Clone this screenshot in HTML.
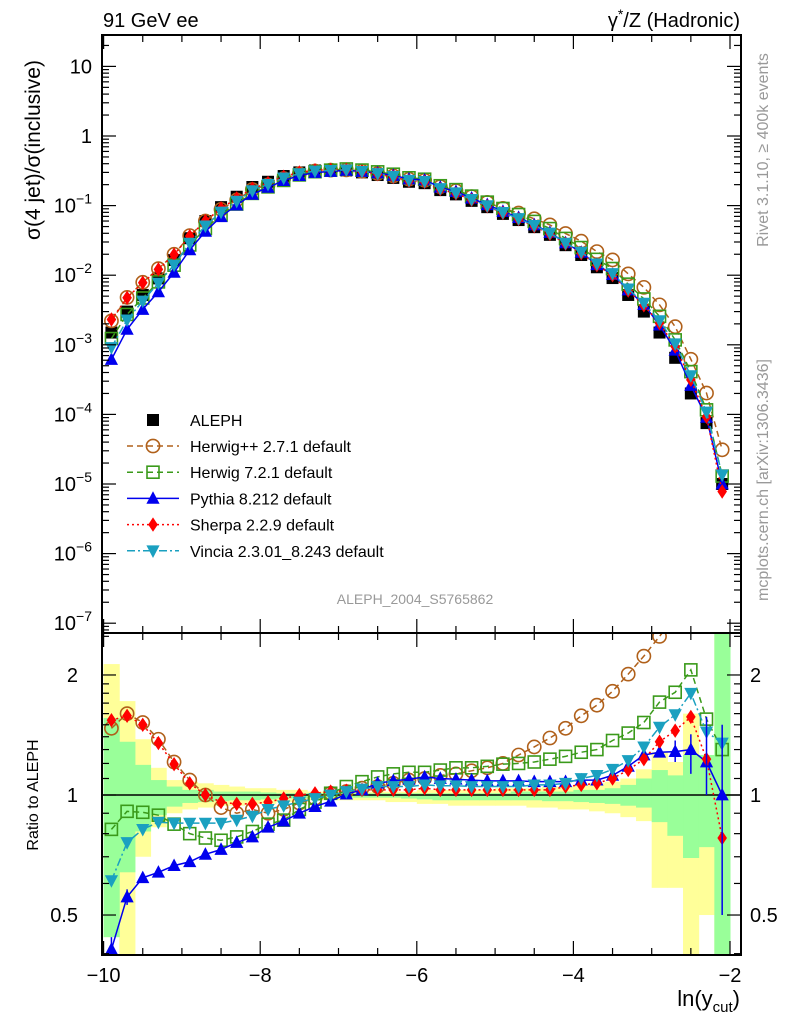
<!DOCTYPE html>
<html><head><meta charset="utf-8"><style>
html,body{margin:0;padding:0;background:#fff;}
svg{display:block;font-family:"Liberation Sans",sans-serif;}
</style></head><body>
<svg id="c" width="786" height="1024" viewBox="0 0 786 1024"></svg>
<script>
const xs=[-9.9,-9.7,-9.5,-9.3,-9.1,-8.9,-8.7,-8.5,-8.3,-8.1,-7.9,-7.7,-7.5,-7.3,-7.1,-6.9,-6.7,-6.5,-6.3,-6.1,-5.9,-5.7,-5.5,-5.3,-5.1,-4.9,-4.7,-4.5,-4.3,-4.1,-3.9,-3.7,-3.5,-3.3,-3.1,-2.9,-2.7,-2.5,-2.3,-2.1];
const aleph=[1.5e-3,3e-3,5.2e-3,9e-3,0.0165,0.034,0.06,0.095,0.134,0.185,0.22,0.266,0.30,0.32,0.32,0.32,0.30,0.275,0.25,0.22,0.21,0.167,0.145,0.117,0.095,0.076,0.062,0.049,0.038,0.027,0.0195,0.013,0.0091,0.0052,0.0030,0.0015,6.5e-4,2.0e-4,7.5e-5,1.0e-5];
const rHpp=[1.47,1.60,1.52,1.38,1.21,1.09,1.0,0.93,0.90,0.92,0.90,0.92,0.955,0.98,1.01,1.02,1.04,1.05,1.07,1.09,1.10,1.12,1.13,1.15,1.17,1.20,1.26,1.32,1.39,1.47,1.58,1.68,1.82,2.01,2.23,2.5,2.8,3.1,2.7,3.1];
const rH7=[0.82,0.91,0.905,0.89,0.845,0.80,0.78,0.77,0.785,0.81,0.845,0.865,0.92,0.96,1.01,1.05,1.08,1.11,1.13,1.14,1.14,1.155,1.17,1.17,1.18,1.195,1.20,1.21,1.23,1.25,1.28,1.30,1.37,1.43,1.52,1.71,1.81,2.06,1.55,1.30];
const rPy=[0.41,0.555,0.62,0.64,0.665,0.68,0.71,0.73,0.76,0.785,0.83,0.86,0.90,0.935,0.965,1.005,1.03,1.07,1.085,1.095,1.11,1.10,1.095,1.09,1.085,1.085,1.085,1.08,1.08,1.08,1.09,1.09,1.12,1.18,1.26,1.28,1.285,1.30,1.21,1.0];
const rSh=[1.54,1.58,1.50,1.35,1.195,1.07,1.0,0.96,0.95,0.95,0.96,0.98,1.0,1.01,1.02,1.025,1.03,1.03,1.03,1.03,1.04,1.03,1.03,1.03,1.03,1.03,1.03,1.03,1.03,1.05,1.06,1.07,1.10,1.155,1.23,1.36,1.45,1.57,1.23,0.78];
const rVi=[0.61,0.76,0.82,0.855,0.85,0.85,0.85,0.85,0.865,0.885,0.92,0.94,0.96,0.98,1.0,1.02,1.035,1.05,1.05,1.05,1.06,1.055,1.055,1.05,1.05,1.05,1.05,1.06,1.06,1.07,1.10,1.12,1.16,1.22,1.32,1.48,1.59,1.80,1.44,1.35];
const pyErrHi=[0.44,0.58,0,0,0,0,0,0,0,0,0,0,0,0,0,0,0,0,0,0,0,0,0,0,0,0,0,0,0,0,0,0,0,0,0,1.31,1.37,1.42,1.57,1.50];
const pyErrLo=[0.38,0.53,0,0,0,0,0,0,0,0,0,0,0,0,0,0,0,0,0,0,0,0,0,0,0,0,0,0,0,0,0,0,0,0,0,1.25,1.21,1.13,1.0,0.5];
const gHi=[1.56,1.36,1.19,1.09,1.05,1.03,1.03,1.02,1.02,1.02,1.015,1.01,1.01,1.01,1.01,1.01,1.01,1.01,1.01,1.01,1.01,1.01,1.01,1.01,1.01,1.01,1.02,1.02,1.02,1.02,1.03,1.03,1.04,1.06,1.10,1.155,1.12,1.26,1.26,2.6];
const gLo=[0.44,0.64,0.81,0.89,0.935,0.955,0.96,0.965,0.97,0.97,0.975,0.98,0.98,0.985,0.985,0.985,0.985,0.985,0.985,0.98,0.975,0.97,0.97,0.97,0.97,0.97,0.97,0.97,0.965,0.965,0.96,0.955,0.95,0.94,0.93,0.855,0.79,0.695,0.74,0.38];
const yHi=[2.13,1.72,1.38,1.17,1.09,1.08,1.07,1.06,1.05,1.04,1.04,1.03,1.03,1.02,1.02,1.02,1.02,1.02,1.02,1.02,1.03,1.03,1.03,1.03,1.03,1.04,1.04,1.04,1.05,1.05,1.06,1.07,1.08,1.10,1.16,1.28,1.21,1.6,1.26,2.6];
const yLo=[0.44,0.38,0.70,0.83,0.90,0.92,0.93,0.94,0.94,0.95,0.95,0.96,0.96,0.97,0.97,0.97,0.97,0.97,0.96,0.96,0.95,0.95,0.94,0.94,0.94,0.94,0.94,0.93,0.93,0.92,0.92,0.91,0.90,0.88,0.86,0.585,0.585,0.38,0.5,0.38];
const series=[
 {name:"Herwig++ 2.7.1 default",r:rHpp,col:"#b0601a",dash:"6,4",mk:"circle"},
 {name:"Herwig 7.2.1 default",r:rH7,col:"#3a9a1a",dash:"6,4",mk:"square"},
 {name:"Pythia 8.212 default",r:rPy,col:"#0000ee",dash:"",mk:"tri"},
 {name:"Sherpa 2.2.9 default",r:rSh,col:"#ff0000",dash:"2,3",mk:"diamond"},
 {name:"Vincia 2.3.01_8.243 default",r:rVi,col:"#1aa0c0",dash:"8,3,2,3",mk:"tridown"}];
const NS="http://www.w3.org/2000/svg";
const svg=document.getElementById('c');
const L=102,R=741,T=35,MB=633,RB=955;
const PXU=78.3;
const X=v=>103.6+(v+10)*PXU;
const YM=v=>136-69.6*Math.log10(v);
const YR=v=>795-398.7*Math.log10(v);
function el(t,a,p){const e=document.createElementNS(NS,t);for(const k in a)e.setAttribute(k,a[k]);(p||svg).appendChild(e);return e;}
const defs=el('defs',{});
const c1=el('clipPath',{id:'cm'},defs);el('rect',{x:L,y:T,width:R-L,height:MB-T},c1);
const c2=el('clipPath',{id:'cr'},defs);el('rect',{x:L,y:MB,width:R-L,height:RB-MB},c2);
const gM=el('g',{'clip-path':'url(#cm)'});


const gR=el('g',{'clip-path':'url(#cr)'});


const hw=0.1*PXU;
xs.forEach((x,i)=>{
 const a=el('rect',{x:X(x)-hw,y:YR(yHi[i]),width:2*hw+0.5,height:YR(yLo[i])-YR(yHi[i]),fill:'#ffff99'},gR);
 
 
});
xs.forEach((x,i)=>{
 const a=el('rect',{x:X(x)-hw,y:YR(gHi[i]),width:2*hw+0.5,height:YR(gLo[i])-YR(gHi[i]),fill:'#99ff99'},gR);
 
 
});
el('line',{x1:L,x2:R,y1:YR(1),y2:YR(1),stroke:'#000','stroke-width':1.5},gR);
function marker(g,mk,cx,cy,col,s){
 let e;
 if(mk==='circle')e=el('circle',{cx,cy,r:s*0.55,fill:'none',stroke:col,'stroke-width':1.6},g);
 else if(mk==='square')e=el('rect',{x:cx-s/2,y:cy-s/2,width:s,height:s,fill:'none',stroke:col,'stroke-width':1.6},g);
 else if(mk==='fsquare')e=el('rect',{x:cx-s/2,y:cy-s/2,width:s,height:s,fill:col},g);
 else if(mk==='tri')e=el('path',{d:`M${cx},${cy-s*0.6}L${cx+s*0.55},${cy+s*0.45}L${cx-s*0.55},${cy+s*0.45}Z`,fill:col},g);
 else if(mk==='tridown')e=el('path',{d:`M${cx},${cy+s*0.6}L${cx+s*0.55},${cy-s*0.45}L${cx-s*0.55},${cy-s*0.45}Z`,fill:col},g);
 else e=el('path',{d:`M${cx},${cy-s*0.6}L${cx+s*0.4},${cy}L${cx},${cy+s*0.6}L${cx-s*0.4},${cy}Z`,fill:col},g);
 return e;
}
xs.forEach((x,i)=>{
 const m=marker(gM,'fsquare',X(x),YM(aleph[i]),'#000',12);
 
 
});
series.forEach(s=>{
 const pm=xs.map((x,i)=>X(x)+','+YM(aleph[i]*s.r[i])).join(' ');
 const pl=el('polyline',{points:pm,fill:'none',stroke:s.col,'stroke-width':1.5,'stroke-dasharray':s.dash},gM);
 
 
 const pr=xs.map((x,i)=>X(x)+','+YR(s.r[i])).join(' ');
 const pl2=el('polyline',{points:pr,fill:'none',stroke:s.col,'stroke-width':1.5,'stroke-dasharray':s.dash},gR);
 
 
 xs.forEach((x,i)=>{
  const m=marker(gM,s.mk,X(x),YM(aleph[i]*s.r[i]),s.col,12);
  
  
  const m2=marker(gR,s.mk,X(x),YR(s.r[i]),s.col,12);
  
  
 });
});
xs.forEach((x,i)=>{ if(pyErrHi[i]>0){
 const e=el('line',{x1:X(x),x2:X(x),y1:YR(pyErrHi[i]),y2:YR(pyErrLo[i]),stroke:'#0000ee','stroke-width':1.5},gR);
 
 
}});
const f1=el('rect',{x:L,y:T,width:R-L,height:MB-T,fill:'none',stroke:'#000','stroke-width':2});


const f2=el('rect',{x:L,y:MB,width:R-L,height:RB-MB,fill:'none',stroke:'#000','stroke-width':2});


function tk(x1,y1,x2,y2){el('line',{x1,y1,x2,y2,stroke:'#000','stroke-width':1.2});}
function txt(s,x,y,o){const t=el('text',Object.assign({x,y,'font-size':20,fill:'#000'},o||{}));t.textContent=s;return t;}
for(let v=-10;v<=-2;v+=0.5){const x=X(v),maj=(v%2===0);const l=maj?14:7;
 tk(x,RB,x,RB-l);tk(x,MB,x,MB-l);tk(x,MB,x,MB+l);tk(x,T,x,T+l);
 if(maj){const t=txt('\u2212'+(-v),x,982,{'text-anchor':'middle'});}}
for(let d=-8;d<=1;d++){for(let m=1;m<10;m++){const v=m*Math.pow(10,d);const y=YM(v);if(y<T+1||y>MB-1)continue;const l=m===1?14:7;tk(L,y,L+l,y);tk(R,y,R-l,y);}}
const decLabels=[1,0,-1,-2,-3,-4,-5,-6,-7];
decLabels.forEach(d=>{const y=YM(Math.pow(10,d))+7;let t;
 if(d===1)t=txt('10',92,y,{'text-anchor':'end'});
 else if(d===0)t=txt('1',92,y,{'text-anchor':'end'});
 else{t=el('text',{x:92,y,'font-size':20,'text-anchor':'end'});const a=el('tspan',{},t);a.textContent='10';const b=el('tspan',{dy:-9,'font-size':14},t);b.textContent='\u2212'+(-d);}
 });
[0.4,0.5,0.6,0.7,0.8,0.9,1,1.1,1.2,1.3,1.4,1.5,1.6,1.7,1.8,1.9,2,2.5].forEach(v=>{const y=YR(v);if(y<MB+1||y>RB-1)return;const l=(v===0.5||v===1||v===2)?14:7;tk(L,y,L+l,y);tk(R,y,R-l,y);});
[['2',2],['1',1],['0.5',0.5]].forEach(([s,v])=>{const y=YR(v)+7;
 const a=txt(s,78,y,{'text-anchor':'end'});
 const b=txt(s,750,y);});
let t=txt('91 GeV ee',103,27);
t=el('text',{x:740,y:27,'font-size':20,'text-anchor':'end'});t.innerHTML='γ<tspan dy="-8" font-size="14">*</tspan><tspan dy="8">/Z (Hadronic)</tspan>';
t=txt('σ(4 jet)/σ(inclusive)',0,0,{transform:'translate(40,150) rotate(-90)','text-anchor':'middle','font-size':21});
t=txt('Ratio to ALEPH',0,0,{transform:'translate(38,795) rotate(-90)','text-anchor':'middle','font-size':16});
t=el('text',{x:740,y:1006,'font-size':22,'text-anchor':'end'});t.innerHTML='ln(y<tspan dy="6" font-size="15">cut</tspan><tspan dy="-6">)</tspan>';
t=txt('Rivet 3.1.10, ≥ 400k events',0,0,{transform:'translate(768,150) rotate(-90)','text-anchor':'middle','font-size':16,fill:'#999'});
t=txt('mcplots.cern.ch [arXiv:1306.3436]',0,0,{transform:'translate(768,480) rotate(-90)','text-anchor':'middle','font-size':16,fill:'#999'});
t=txt('ALEPH_2004_S5765862',415,604,{'text-anchor':'middle','font-size':14,fill:'#999'});
const lg=el('g',{});


marker(lg,'fsquare',153,420,'#000',12);
t=txt('ALEPH',190,426,{'font-size':16});
series.forEach((s,i)=>{const y=446+i*26.2;
 el('line',{x1:127,x2:179,y1:y,y2:y,stroke:s.col,'stroke-width':1.5,'stroke-dasharray':s.dash},lg);
 marker(lg,s.mk,153,y,s.col,12);
 const tt=txt(s.name,190,y+6,{'font-size':16});});
</script>
</body></html>
